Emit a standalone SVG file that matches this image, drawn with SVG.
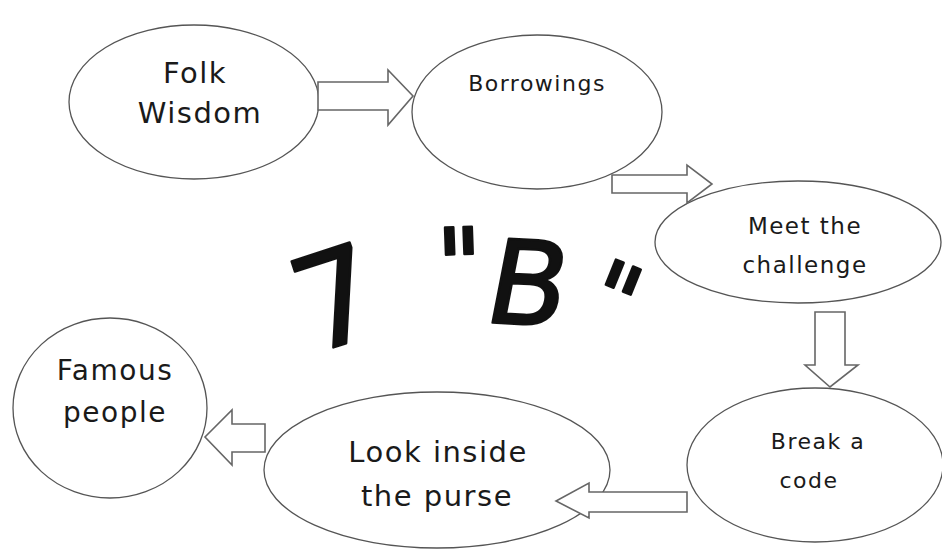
<svg xmlns="http://www.w3.org/2000/svg" width="942" height="550" viewBox="0 0 942 550">
<style>
.node ellipse{fill:#fff;stroke:#555;stroke-width:1.3}
.lbl{font-family:"DejaVu Sans",sans-serif;fill:#1a1a1a;text-anchor:middle;letter-spacing:1.5px}
.arr{fill:#fff;stroke:#666;stroke-width:1.6;stroke-linejoin:miter}
.big{font-family:"DejaVu Sans",sans-serif;fill:#111;stroke:#111;stroke-width:2.5;stroke-linejoin:round;text-anchor:middle}
</style>
<rect width="942" height="550" fill="#fff"/>
<g id="folk" class="node">
<ellipse cx="194" cy="102" rx="125" ry="77"/>
<text class="lbl" x="195" y="83" font-size="29">Folk</text>
<text class="lbl" x="200" y="123" font-size="29">Wisdom</text>
</g>
<g id="borrowings" class="node">
<ellipse cx="537" cy="112" rx="125" ry="77"/>
<text class="lbl" x="537" y="91" font-size="22">Borrowings</text>
</g>
<g id="meet" class="node">
<ellipse cx="798" cy="242" rx="143" ry="61"/>
<text class="lbl" x="805" y="234" font-size="23">Meet the</text>
<text class="lbl" x="805" y="273" font-size="23">challenge</text>
</g>
<g id="break" class="node">
<ellipse cx="815" cy="465" rx="128" ry="77"/>
<text class="lbl" x="818" y="449" font-size="22">Break a</text>
<text class="lbl" x="809" y="488" font-size="22">code</text>
</g>
<g id="purse" class="node">
<ellipse cx="437" cy="470" rx="173" ry="78"/>
<text class="lbl" x="438" y="462" font-size="29">Look inside</text>
<text class="lbl" x="437" y="506" font-size="29">the purse</text>
</g>
<g id="famous" class="node">
<ellipse cx="110" cy="408" rx="97" ry="90"/>
<text class="lbl" x="115" y="380" font-size="28">Famous</text>
<text class="lbl" x="115" y="422" font-size="28">people</text>
</g>
<g id="connectors">
<polygon class="arr" points="318,82 388,82 388,70 413,96 388,125 388,110 318,110"/>
<polygon class="arr" points="612,175 687,175 687,165 712,184 687,203 687,193 612,193"/>
<polygon class="arr" points="815,312 845,312 845,365 858,365 830,387 805,365 815,365"/>
<polygon class="arr" points="687,492 589,492 589,483 556,501 589,518 589,512 687,512"/>
<polygon class="arr" points="265,424 232,424 232,410 205,437 232,465 232,452 265,452"/>
</g>
<g id="title">
<text class="big" font-size="130" transform="translate(350,342) rotate(-18)">7</text>
<text class="big" font-size="100" transform="translate(461,300) rotate(-2)">"</text>
<text class="big" font-size="116" transform="translate(521,324) rotate(3) skewX(-8)">B</text>
<text class="big" font-size="100" transform="translate(601,332) rotate(22)">"</text>
</g>
</svg>
